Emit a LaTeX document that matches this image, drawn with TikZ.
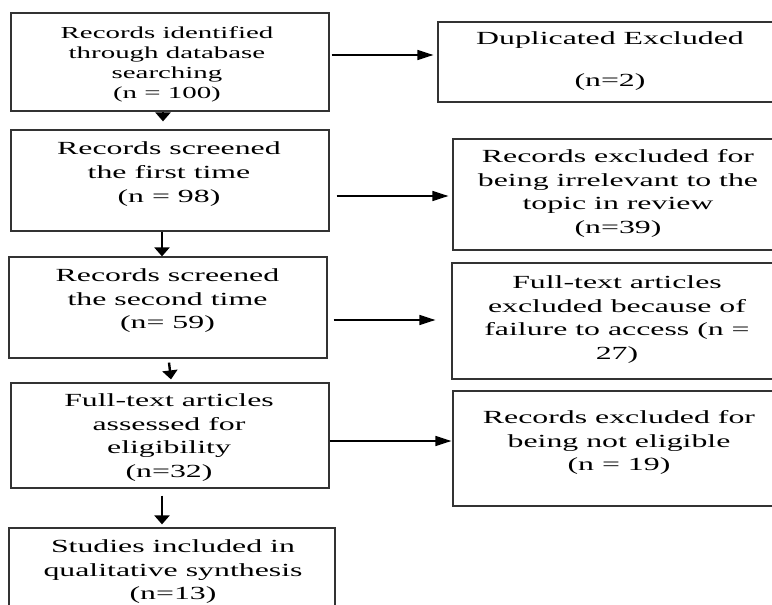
\documentclass[tikz,border=0pt]{standalone}
\usepackage{fontspec}
\setmainfont{Liberation Serif}[FakeStretch=1.72]
\usetikzlibrary{arrows.meta}
\begin{document}
\begin{tikzpicture}[x=1pt,y=-1pt,
  box/.style={draw=black!80, line width=1.2pt, inner sep=0pt, rectangle},
  txt/.style={inner sep=0pt, anchor=north, align=center, font=\fontsize{18.5}{23.7}\selectfont},
  smalltxt/.style={txt, font=\fontsize{16.8}{20}\selectfont},
  harr/.style={line width=1.5pt, -{Triangle[length=16pt,width=10pt]}},
  varr/.style={line width=2.4pt, -{Triangle[length=9pt,width=15pt]}}]
\clip (0,0) rectangle (772,605);
\fill[white] (0,0) rectangle (772,605);

% left column boxes
\node[box, minimum width=318pt, minimum height=98pt]  (b1) at (170,62) {};
\node[box, minimum width=318pt, minimum height=101pt] (b2) at (170,180.5) {};
\node[box, minimum width=318pt, minimum height=101pt] (b3) at (168,307.5) {};
\node[box, minimum width=318pt, minimum height=105pt] (b4) at (170,435.5) {};
\node[box, minimum width=326pt, minimum height=92pt]  (b5) at (172,574) {};

% right column boxes (cut at the right edge)
\node[box, minimum width=342pt, minimum height=80pt]  (r1) at (609,62) {};
\node[box, minimum width=327pt, minimum height=111pt] (r2) at (616.5,194.5) {};
\node[box, minimum width=328pt, minimum height=116pt] (r3) at (616,321) {};
\node[box, minimum width=327pt, minimum height=115pt] (r4) at (616.5,448.5) {};

% texts
\node[smalltxt] (t1) at (167,26.8) {Records identified\\through database\\searching\\(n = 100)};
\node[txt] (t2) at (169,141.6) {Records screened\\the first time\\(n = 98)};
\node[txt] (t3) at (167.5,268.3) {Records screened\\the second time\\(n= 59)};
\node[txt] (t4) at (169,393.3) {Full-text articles\\assessed for\\eligibility\\(n=32)};
\node[txt] (t5) at (173,539.3) {Studies included in\\qualitative synthesis\\(n=13)};

\node[txt] (tr1) at (610,31.6) {Duplicated Excluded\\[17.7pt](n=2)};
\node[txt] (tr2) at (618,149.3) {Records excluded for\\being irrelevant to the\\topic in review\\(n=39)};
\node[txt] (tr3) at (617,275.3) {Full-text articles\\excluded because of\\failure to access (n =\\27)};
\node[txt] (tr4) at (619,410.3) {Records excluded for\\being not eligible\\(n = 19)};

% vertical connectors
\draw[varr] ([xshift=-7pt]b1.south) -- ([xshift=-7pt,yshift=8pt]b2.north);
\draw[varr] ([xshift=-8pt]b2.south) -- ([xshift=-8pt]b2.south |- b3.north);
\draw[varr] ([xshift=1pt,yshift=-4pt]b3.south) -- ([xshift=1pt,yshift=3pt]b4.north);
\draw[varr] ([xshift=-8pt,yshift=-7pt]b4.south) -- ([xshift=-10pt,yshift=3pt]b5.north);

% horizontal connectors
\draw[harr] ([xshift=2pt,yshift=7pt]b1.east) -- ([xshift=-4pt,yshift=7pt]r1.west);
\draw[harr] ([xshift=7pt,yshift=-15.5pt]b2.east) -- ([xshift=-4pt,yshift=-1.5pt]r2.west);
\draw[harr] ([xshift=6pt,yshift=-12.5pt]b3.east) -- ([xshift=-16pt,yshift=1pt]r3.west);
\draw[harr] ([yshift=-5.5pt]b4.east) -- ([xshift=-1pt,yshift=7.5pt]r4.west);
\end{tikzpicture}
\end{document}
